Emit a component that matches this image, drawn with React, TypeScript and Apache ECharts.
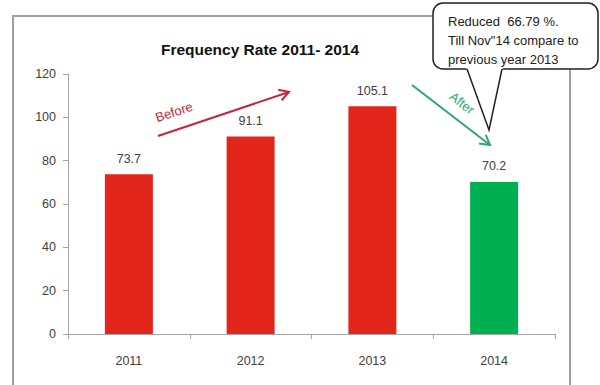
import React, { useEffect, useRef } from "react";
import * as echarts from "echarts";

const years = ["2011", "2012", "2013", "2014"];
const rates = [73.7, 91.1, 105.1, 70.2];
const barColors = ["#E3261C", "#E3261C", "#E3261C", "#00B050"];
const titleText = "Frequency Rate 2011- 2014";
const calloutLines = ["Reduced  66.79 %.", "Till Nov\"14 compare to", "previous year 2013"];

function arrow(x1: number, y1: number, x2: number, y2: number, color: string) {
  const ang = Math.atan2(y2 - y1, x2 - x1);
  const len = 11;
  const spread = Math.PI / 6;
  const a1 = ang + Math.PI - spread;
  const a2 = ang + Math.PI + spread;
  return [
    {
      type: "line",
      shape: { x1, y1, x2, y2 },
      style: { stroke: color, lineWidth: 2 },
      z: 10,
    },
    {
      type: "polyline",
      shape: {
        points: [
          [x2 + len * Math.cos(a1), y2 + len * Math.sin(a1)],
          [x2, y2],
          [x2 + len * Math.cos(a2), y2 + len * Math.sin(a2)],
        ],
      },
      style: { stroke: color, lineWidth: 2, fill: null },
      z: 10,
    },
  ];
}

export default function App() {
  const ref = useRef<HTMLDivElement>(null);
  useEffect(() => {
    document.body.style.margin = "0";
    if (!ref.current) return;
    const chart = echarts.init(ref.current, null, { renderer: "svg" });
    const font = "'Liberation Sans', Arial, sans-serif";
    chart.setOption({
      animation: false,
      backgroundColor: "#ffffff",
      title: {
        text: titleText,
        left: 255,
        textAlign: "center",
        top: 36,
        textStyle: { fontFamily: font, fontSize: 15.5, fontWeight: "bold", color: "#111" },
      },
      grid: { left: 68, right: 45, top: 74, bottom: 51 },
      xAxis: {
        type: "category",
        data: years,
        axisLine: { lineStyle: { color: "#A6A6A6" } },
        axisTick: { show: true, length: 5, lineStyle: { color: "#A6A6A6" } },
        axisLabel: { color: "#404040", fontFamily: font, fontSize: 12.5, margin: 20 },
      },
      yAxis: {
        type: "value",
        min: 0,
        max: 120,
        interval: 20,
        splitLine: { show: false },
        axisLine: { show: true, lineStyle: { color: "#A6A6A6" } },
        axisTick: { show: true, length: 5, lineStyle: { color: "#A6A6A6" } },
        axisLabel: { color: "#404040", fontFamily: font, fontSize: 12.5, margin: 12 },
      },
      series: [
        {
          type: "bar",
          barWidth: 48,
          data: rates.map((v, i) => ({ value: v, itemStyle: { color: barColors[i] } })),
          label: {
            show: true,
            position: "top",
            distance: 9,
            color: "#404040",
            fontFamily: font,
            fontSize: 12.5,
          },
        },
      ],
      graphic: [
        {
          type: "rect",
          shape: { x: 13, y: 16, width: 557, height: 400 },
          style: { stroke: "#A0A0A0", lineWidth: 2, fill: null },
          z: 1,
        },
        ...arrow(158, 136, 289, 92, "#C4263E"),
        {
          type: "text",
          x: 174,
          y: 112,
          rotation: (18.6 * Math.PI) / 180,
          style: {
            text: "Before",
            fill: "#C4263E",
            font: `13px ${font}`,
            align: "center",
            verticalAlign: "middle",
          },
          z: 10,
        },
        ...arrow(412, 85, 490, 145, "#2EA86E"),
        {
          type: "text",
          x: 462,
          y: 103,
          rotation: (-37.6 * Math.PI) / 180,
          style: {
            text: "After",
            fill: "#2EA86E",
            font: `13px ${font}`,
            align: "center",
            verticalAlign: "middle",
          },
          z: 10,
        },
        {
          type: "rect",
          shape: { x: 433, y: 3, width: 165, height: 66, r: 10 },
          style: { stroke: "#222", lineWidth: 1.5, fill: "#fff" },
          z: 20,
        },
        {
          type: "polygon",
          shape: { points: [[466, 67], [489, 130], [503, 67]] },
          style: { fill: "#fff" },
          z: 21,
        },
        {
          type: "polyline",
          shape: { points: [[467, 69], [489, 130], [502, 69]] },
          style: { stroke: "#222", lineWidth: 1.5, fill: null },
          z: 22,
        },
        {
          type: "text",
          x: 448,
          y: 12,
          style: {
            text: calloutLines.join("\n"),
            fill: "#222",
            font: `13px ${font}`,
            lineHeight: 19,
            align: "left",
            verticalAlign: "top",
          },
          z: 23,
        },
      ],
    });
    return () => chart.dispose();
  }, []);
  return <div ref={ref} style={{ width: 600, height: 385 }} />;
}
